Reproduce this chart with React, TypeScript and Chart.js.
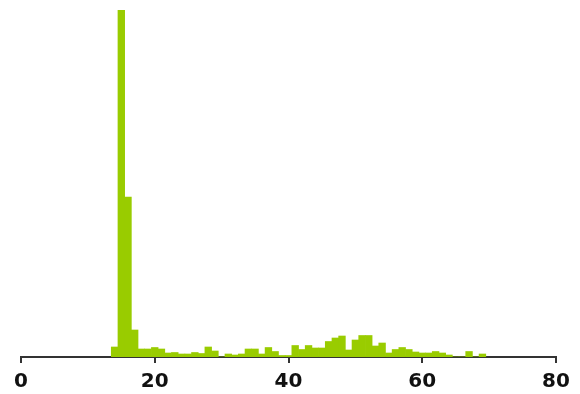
import React, { useEffect, useRef } from "react";
import { Chart, registerables } from "chart.js";

Chart.register(...registerables);

// Histogram bins: centre values (unit-width bins) and counts
const binCenters: number[] = [
  14, 15, 16, 17, 18, 19, 20, 21, 22, 23, 24, 25, 26, 27, 28, 29, 30, 31, 32, 33,
  34, 35, 36, 37, 38, 39, 40, 41, 42, 43, 44, 45, 46, 47, 48, 49, 50, 51, 52, 53,
  54, 55, 56, 57, 58, 59, 60, 61, 62, 63, 64, 65, 66, 67, 68, 69,
];
const counts: number[] = [
  10, 347, 160, 27, 8, 8, 9.5, 8, 4, 4.5, 3, 3, 4.5, 3.5, 10, 6, 0, 3, 2, 3,
  8, 8, 3, 9.5, 5.5, 1.5, 1.5, 11.5, 7.5, 11.5, 9, 9, 15.5, 19, 21, 7, 17, 21.5, 21.5, 11,
  14, 4, 7.5, 9.5, 7.5, 5, 4, 4, 5.5, 4, 2, 0, 0, 5.5, 0, 3,
];
const xMin = 0;
const xMax = 80;
const xStep = 20;

export default function App() {
  const ref = useRef<HTMLCanvasElement | null>(null);
  useEffect(() => {
    if (!ref.current) return;
    const chart = new Chart(ref.current, {
      type: "bar",
      data: {
        datasets: [
          {
            data: binCenters.map((x, i) => ({ x, y: counts[i] })),
            backgroundColor: "#99cc00",
            borderWidth: 0,
            barPercentage: 1,
            categoryPercentage: 1,
          },
        ],
      },
      options: {
        animation: false,
        responsive: false,
        maintainAspectRatio: false,
        layout: { padding: { left: 21, right: 24, top: 10, bottom: 2 } },
        plugins: { legend: { display: false }, tooltip: { enabled: false } },
        scales: {
          x: {
            type: "linear",
            min: xMin,
            max: xMax,
            offset: false,
            afterFit: (s: any) => {
              s.height = 35;
            },
            ticks: {
              stepSize: xStep,
              color: "#111",
              padding: 7,
              maxRotation: 0,
              font: { family: "DejaVu Sans", size: 20, weight: "bold" },
            },
            grid: {
              display: true,
              offset: false,
              drawOnChartArea: false,
              drawTicks: true,
              tickLength: 6,
              color: "#333",
              lineWidth: 2,
            },
            border: { display: true, color: "#333", width: 2 },
          },
          y: { display: false, min: 0, max: 347 },
        },
      },
    });
    return () => chart.destroy();
  }, []);
  return (
    <div style={{ position: "fixed", left: 0, top: 0, width: 580, height: 394, background: "#fff" }}>
      <canvas ref={ref} width={580} height={394} style={{ width: 580, height: 394 }} />
    </div>
  );
}
